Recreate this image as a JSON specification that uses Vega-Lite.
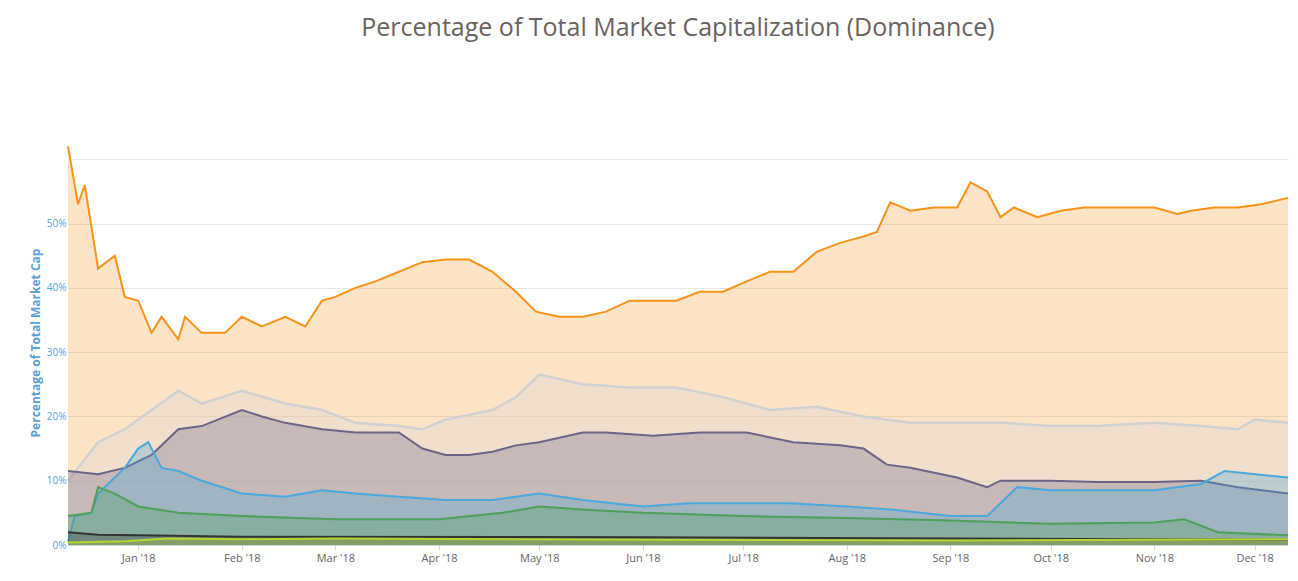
{
  "$schema": "https://vega.github.io/schema/vega-lite/v6.json",
  "width": 1220,
  "height": 405,
  "autosize": "none",
  "padding": {"left": 68, "top": 140, "right": 10, "bottom": 36},
  "background": "white",
  "title": {"text": "Percentage of Total Market Capitalization (Dominance)", "fontSize": 25, "font": "Open Sans", "fontWeight": "normal", "color": "#6b6360", "offset": 99},
  "datasets": {
    "btc": [
      ["2017-12-11",62],["2017-12-14",53],["2017-12-16",56],["2017-12-20",43],["2017-12-25",45],["2017-12-28",38.6],["2018-01-01",38],["2018-01-05",33],["2018-01-08",35.5],["2018-01-13",32],["2018-01-15",35.5],["2018-01-20",33],["2018-01-27",33],["2018-02-01",35.5],["2018-02-07",34],["2018-02-14",35.5],["2018-02-20",34],["2018-02-25",38],["2018-03-01",38.6],["2018-03-07",40],["2018-03-13",41],["2018-03-20",42.5],["2018-03-27",44],["2018-04-03",44.4],["2018-04-10",44.4],["2018-04-17",42.5],["2018-04-24",39.4],["2018-04-30",36.3],["2018-05-07",35.5],["2018-05-14",35.5],["2018-05-21",36.3],["2018-05-28",38],["2018-06-04",38],["2018-06-11",38],["2018-06-18",39.4],["2018-06-25",39.4],["2018-07-02",41],["2018-07-09",42.5],["2018-07-16",42.5],["2018-07-23",45.6],["2018-07-30",47],["2018-08-06",48],["2018-08-10",48.7],["2018-08-14",53.3],["2018-08-20",52],["2018-08-27",52.5],["2018-09-03",52.5],["2018-09-07",56.4],["2018-09-12",55],["2018-09-16",51],["2018-09-20",52.5],["2018-09-27",51],["2018-10-04",52],["2018-10-11",52.5],["2018-10-18",52.5],["2018-10-25",52.5],["2018-11-01",52.5],["2018-11-08",51.5],["2018-11-12",52],["2018-11-19",52.5],["2018-11-26",52.5],["2018-12-03",53],["2018-12-11",54]
    ],
    "oth": [
      ["2017-12-11",10],["2017-12-20",16],["2017-12-28",18],["2018-01-05",21],["2018-01-13",24],["2018-01-20",22],["2018-02-01",24],["2018-02-14",22],["2018-02-25",21],["2018-03-07",19],["2018-03-20",18.5],["2018-03-27",18],["2018-04-03",19.5],["2018-04-17",21],["2018-04-24",23],["2018-05-01",26.5],["2018-05-14",25],["2018-05-28",24.5],["2018-06-11",24.5],["2018-06-25",23],["2018-07-09",21],["2018-07-23",21.5],["2018-08-06",20],["2018-08-20",19],["2018-09-03",19],["2018-09-17",19],["2018-10-01",18.5],["2018-10-15",18.5],["2018-11-01",19],["2018-11-15",18.5],["2018-11-26",18],["2018-12-01",19.5],["2018-12-11",19]
    ],
    "eth": [
      ["2017-12-11",11.5],["2017-12-20",11],["2017-12-28",12],["2018-01-05",14],["2018-01-13",18],["2018-01-20",18.5],["2018-02-01",21],["2018-02-07",20],["2018-02-14",19],["2018-02-25",18],["2018-03-07",17.5],["2018-03-20",17.5],["2018-03-27",15],["2018-04-03",14],["2018-04-10",14],["2018-04-17",14.5],["2018-04-24",15.5],["2018-05-01",16],["2018-05-14",17.5],["2018-05-21",17.5],["2018-06-04",17],["2018-06-18",17.5],["2018-07-02",17.5],["2018-07-16",16],["2018-07-30",15.5],["2018-08-06",15],["2018-08-13",12.5],["2018-08-20",12],["2018-09-03",10.5],["2018-09-12",9],["2018-09-16",10],["2018-10-01",10],["2018-10-15",9.8],["2018-11-01",9.8],["2018-11-15",10],["2018-11-26",9],["2018-12-11",8]
    ],
    "xrp": [
      ["2017-12-11",0.5],["2017-12-13",4.5],["2017-12-18",5],["2017-12-20",8],["2017-12-28",12],["2018-01-01",15],["2018-01-04",16],["2018-01-08",12],["2018-01-13",11.5],["2018-01-20",10],["2018-02-01",8],["2018-02-14",7.5],["2018-02-25",8.5],["2018-03-07",8],["2018-03-20",7.5],["2018-04-03",7],["2018-04-17",7],["2018-04-24",7.5],["2018-05-01",8],["2018-05-14",7],["2018-06-01",6],["2018-06-15",6.5],["2018-07-01",6.5],["2018-07-15",6.5],["2018-08-01",6],["2018-08-15",5.5],["2018-09-01",4.5],["2018-09-12",4.5],["2018-09-21",9],["2018-10-01",8.5],["2018-10-15",8.5],["2018-11-01",8.5],["2018-11-15",9.5],["2018-11-22",11.5],["2018-12-11",10.5]
    ],
    "bch": [
      ["2017-12-11",4.5],["2017-12-18",5],["2017-12-20",9],["2017-12-25",8],["2018-01-01",6],["2018-01-13",5],["2018-02-01",4.5],["2018-03-01",4],["2018-04-01",4],["2018-04-20",5],["2018-05-01",6],["2018-05-15",5.5],["2018-06-01",5],["2018-07-01",4.5],["2018-08-01",4.2],["2018-09-01",3.8],["2018-10-01",3.3],["2018-11-01",3.5],["2018-11-10",4],["2018-11-20",2],["2018-12-11",1.5]
    ],
    "ltc": [
      ["2017-12-11",2],["2017-12-20",1.6],["2018-01-01",1.5],["2018-02-01",1.3],["2018-06-01",1.2],["2018-09-01",1],["2018-12-11",0.8]
    ],
    "xlm": [
      ["2017-12-11",0.4],["2017-12-28",0.6],["2018-01-10",1],["2018-02-01",0.9],["2018-03-01",1],["2018-06-01",0.8],["2018-09-01",0.7],["2018-12-11",0.9]
    ]
  },
  "encoding": {
    "x": {"field": "0", "type": "temporal", "scale": {"domain": ["2017-12-11", "2018-12-11"]},
      "axis": {"title": null, "format": "%b '%y", "tickCount": "month", "grid": false, "domainColor": "#ccd6eb", "tickColor": "#ccd6eb", "labelColor": "#666666", "labelFont": "Open Sans", "labelFontSize": 11}},
    "y": {"field": "1", "type": "quantitative", "scale": {"domain": [0, 63], "nice": false},
      "axis": {"title": "Percentage of Total Market Cap", "titleColor": "#5aa0d8", "titleFontSize": 12, "titleFont": "Open Sans", "labelColor": "#5aa0d8", "labelFont": "Open Sans", "labelFontSize": 10, "values": [0,10,20,30,40,50,60], "labelExpr": "datum.value == 60 ? '' : datum.value + '%'", "domain": false, "ticks": false, "gridColor": "#e6e6e6"}}
  },
  "layer": [
    {"data": {"name": "btc"}, "mark": {"type": "area", "color": "#f7931a", "opacity": 0.25, "line": {"color": "#f7931a", "strokeWidth": 2, "opacity": 1}}},
    {"data": {"name": "oth"}, "mark": {"type": "area", "color": "#d8d8d8", "opacity": 0.35, "line": {"color": "#d0d0d0", "strokeWidth": 2.5, "opacity": 1}}},
    {"data": {"name": "eth"}, "mark": {"type": "area", "color": "#6b6488", "opacity": 0.3, "line": {"color": "#6b6488", "strokeWidth": 2, "opacity": 1}}},
    {"data": {"name": "xrp"}, "mark": {"type": "area", "color": "#4aa8dc", "opacity": 0.3, "line": {"color": "#4aa8dc", "strokeWidth": 2, "opacity": 1}}},
    {"data": {"name": "bch"}, "mark": {"type": "area", "color": "#4e9f5a", "opacity": 0.3, "line": {"color": "#4e9f5a", "strokeWidth": 2, "opacity": 1}}},
    {"data": {"name": "ltc"}, "mark": {"type": "area", "color": "#333333", "opacity": 0.3, "line": {"color": "#333333", "strokeWidth": 2, "opacity": 1}}},
    {"data": {"name": "xlm"}, "mark": {"type": "area", "color": "#b5d630", "opacity": 0.3, "line": {"color": "#b5d630", "strokeWidth": 2, "opacity": 1}}}
  ],
  "config": {"view": {"stroke": null}}
}
